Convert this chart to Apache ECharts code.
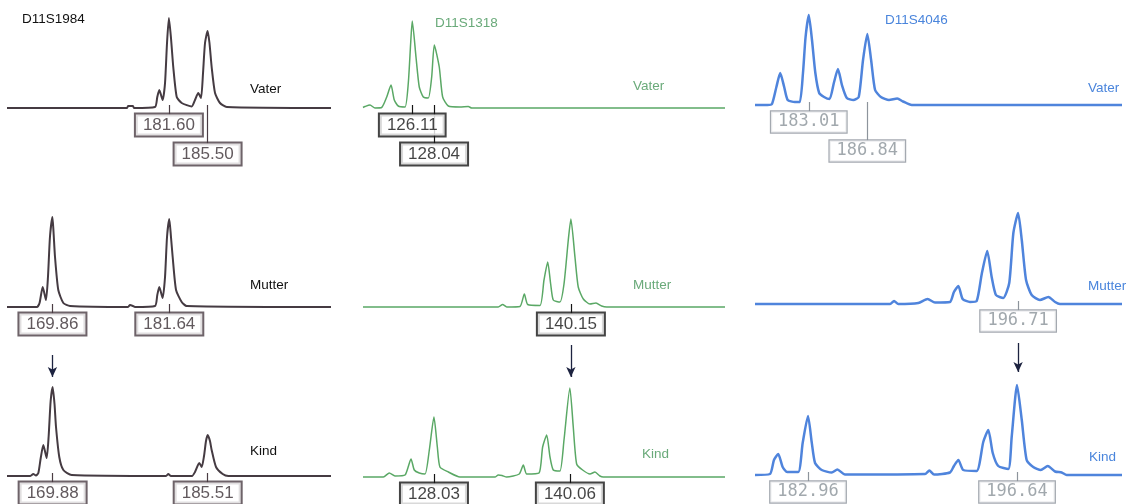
<!DOCTYPE html>
<html>
<head>
<meta charset="utf-8">
<script src="https://cdn.jsdelivr.net/npm/echarts@6/dist/echarts.min.js"></script>
<style>
  html, body { margin: 0; background: #fff; }
  #chart { width: 1131px; height: 504px; }
</style>
</head>
<body>
<div id="chart"></div>
<script>
// fragment size (bp) against peak height
const vater1984 = [[165.28,0],[177.38,0],[177.48,2],[177.98,2],[178.08,0],[180.20,1],[180.43,11],[180.63,18],[180.97,8],[181.21,25],[181.41,65],[181.60,90],[181.81,70],[182.04,41],[182.39,11],[182.89,5],[183.90,1.5],[184.23,8],[184.56,15],[184.84,10],[185.04,35],[185.24,65],[185.50,77],[185.69,65],[185.91,41],[186.25,15],[186.75,5],[187.43,1],[197.94,0]]
const mutter1984 = [[165.28,0],[168.30,0],[168.56,4],[168.88,20],[169.21,7],[169.41,30],[169.61,70],[169.86,90],[169.97,75],[170.12,50],[170.45,17],[170.96,4],[171.63,1],[177.48,0],[177.68,2],[177.98,1],[178.18,0],[180.20,1],[180.43,12],[180.63,20],[180.97,9],[181.21,30],[181.41,70],[181.64,88],[181.81,70],[181.98,50],[182.32,17],[182.89,5],[183.39,1],[197.94,0]]
const kind1984 = [[165.28,0],[167.60,0],[167.93,2],[168.20,0.5],[168.44,3],[168.68,18],[168.94,31],[169.28,18],[169.48,40],[169.68,75],[169.88,89],[170.07,72],[170.22,49],[170.55,19],[170.96,6],[171.80,1],[181.31,0],[181.54,2],[181.81,0],[183.93,0],[184.23,4],[184.66,13],[184.91,9],[185.14,20],[185.34,35],[185.51,41],[185.74,35],[185.91,26],[186.35,9],[187.02,2],[187.59,0],[197.94,0]]

const vater1318 = [[121.75,0.5],[121.93,1.5],[122.37,3],[122.81,0],[123.40,0.5],[123.85,11],[124.23,23],[124.52,8],[124.87,2],[125.47,1],[125.76,25],[125.97,65],[126.11,87],[126.44,51],[126.73,21],[127.09,11],[127.53,10],[127.83,31],[128.06,63],[128.50,41],[128.80,11],[129.30,2],[130.33,1],[131.07,1.5],[131.37,0],[153.79,0]]
const mutter1318 = [[121.75,0],[133.72,0],[134.11,2.5],[134.47,0],[135.64,0.5],[136.03,13],[136.33,2.5],[137.41,1.5],[137.77,27],[138.10,45],[138.36,23],[138.59,7],[139.18,5],[139.54,23],[139.92,67],[140.15,88],[140.51,50],[140.80,20],[141.25,8],[141.84,3],[142.37,4],[142.87,1],[143.32,0],[153.79,0]]
const kind1318 = [[121.75,0],[123.55,0],[124.08,4],[124.58,1],[125.47,2],[126.00,18],[126.29,7],[126.73,4],[127.24,3],[127.62,27],[128.03,60],[128.33,30],[128.56,10],[129.30,5],[130.33,0],[133.43,0],[133.72,2],[134.05,1.5],[134.47,0],[135.58,3],[135.94,12],[136.24,3],[137.33,4],[137.65,30],[138.01,42],[138.30,20],[138.59,7],[139.18,6],[139.54,37],[140.06,89],[140.36,50],[140.66,13],[141.19,7],[141.84,3],[142.28,5],[142.72,1],[143.02,0],[153.79,0]]

const vater4046 = [[179.49,0],[180.30,0],[180.60,1],[180.89,18],[181.14,32],[181.40,18],[181.63,5],[182.10,3],[182.42,3],[182.63,32],[182.80,68],[183.01,90],[183.22,65],[183.44,32],[183.69,12],[184.01,8],[184.37,6],[184.65,22],[184.92,36],[185.18,20],[185.50,7],[185.93,5],[186.28,8],[186.56,45],[186.84,71],[187.09,45],[187.35,15],[187.73,8],[188.26,5],[188.80,6.5],[189.18,3.5],[189.75,0],[203.51,0]]
const mutter4046 = [[179.49,0],[188.33,0],[188.59,3],[188.87,0],[190.18,1],[190.79,5],[191.27,1.5],[192.25,2],[192.51,12],[192.80,18],[193.08,5],[193.56,2],[194.00,3],[194.33,30],[194.69,53],[194.98,27],[195.26,9],[195.74,6],[196.13,21],[196.40,71],[196.71,91],[196.95,64],[197.23,24],[197.60,9],[198.14,4],[198.69,7],[199.13,2],[199.45,0],[203.51,0]]
const kind4046 = [[179.49,0],[180.47,1],[180.73,15],[181.01,21],[181.30,8],[181.60,3],[182.32,3],[182.61,32],[182.96,59],[183.20,33],[183.42,12],[183.86,5],[184.51,2.5],[184.88,5.5],[185.38,0.5],[190.62,1],[190.90,4.5],[191.21,0.5],[192.25,2.5],[192.51,9],[192.80,15],[193.12,5],[194.00,4],[194.43,33],[194.76,45],[195.05,22],[195.41,9],[196.07,6],[196.29,38],[196.64,90],[196.95,55],[197.27,15],[197.70,8],[198.19,5],[198.65,9],[199.13,3.5],[199.56,2.5],[199.89,0],[203.51,0]]

const loci = ['D11S1984', 'D11S1318', 'D11S4046']
const samples = ['Vater', 'Mutter', 'Kind']
const sizeRange = [[165.28, 197.94], [121.75, 153.79], [179.49, 203.51]]

// allele calls, rows = Vater / Mutter / Kind, columns = loci
const vaterAlleles = [[181.60, 185.50], [126.11, 128.04], [183.01, 186.84]]
const mutterAlleles = [[169.86, 181.64], [140.15], [196.71]]
const kindAlleles = [[169.88, 185.51], [128.03, 140.06], [182.96, 196.64]]
// allele the child got from the mother (arrow)
const inherited = [169.86, 140.15, 196.71]

const traces = [
  [vater1984, vater1318, vater4046],
  [mutter1984, mutter1318, mutter4046],
  [kind1984, kind1318, kind4046]
]
const alleles = [vaterAlleles, mutterAlleles, kindAlleles]

// layout
const colLeft = [7, 363, 755]
const colWidth = [324, 362, 367]
const baseline = [[108, 108, 105], [307, 307, 304], [476, 477, 475]]
const Y_MIN = -75, Y_MAX = 100
const BOX_Y = [-17, -46]
const sampleText = [[[250, 90], [633, 87], [1088, 89]], [[250, 286], [633, 286], [1088, 287]], [[250, 452], [642, 455], [1089, 458]]]
const locusText = [[22, 20], [435, 24], [885, 21]]
const arrowY = [[-48, -70], [-38, -70], [-39, -68]]

const colStyle = [
  { line: '#453b42', width: 2, text: '#111111', box: '#4a3c44', boxText: '#3a3035', boxWidth: 2, font: 'Liberation Sans' },
  { line: '#5aa865', width: 1.5, text: '#6aaa7a', box: '#151515', boxText: '#151515', boxWidth: 2, font: 'Liberation Sans' },
  { line: '#4f84dc', width: 2.5, text: '#4a85dc', box: '#8d949c', boxText: '#8a9299', boxWidth: 1.2, font: 'DejaVu Sans Mono' }
]

let chart = echarts.init(document.getElementById('chart'))

let grids = [], xAxes = [], yAxes = [], series = [], titles = []

loci.forEach((name, c) => {
  titles.push({
    text: name, left: locusText[c][0], top: locusText[c][1] - 8, padding: 0,
    textStyle: { fontSize: 13.5, fontWeight: 'normal', color: colStyle[c].text, fontFamily: 'Liberation Sans' }
  })
})

for (let r = 0; r < 3; r++) {
  for (let c = 0; c < 3; c++) {
    let i = r * 3 + c
    let st = colStyle[c]
    grids.push({
      left: colLeft[c], width: colWidth[c],
      top: baseline[r][c] - Y_MAX, height: Y_MAX - Y_MIN,
      outerBoundsMode: 'none'
    })
    xAxes.push({ type: 'value', gridIndex: i, min: sizeRange[c][0], max: sizeRange[c][1], show: false })
    yAxes.push({ type: 'value', gridIndex: i, min: Y_MIN, max: Y_MAX, show: false })

    titles.push({
      text: samples[r], left: sampleText[r][c][0], top: sampleText[r][c][1] - 8, padding: 0,
      textStyle: { fontSize: 13.5, fontWeight: 'normal', color: st.text, fontFamily: 'Liberation Sans' }
    })

    let calls = alleles[r][c]
    // father's two calls are staggered so the boxes don't overlap
    let levels = calls.map((a, k) => r === 0 ? k : 0)
    let marks = calls.map((a, k) => [
      { coord: [a, 3] },
      { coord: [a, BOX_Y[levels[k]] + 10.5] }
    ])
    if (r === 1) {
      marks.push([
        { coord: [inherited[c], arrowY[c][0]], symbol: 'none', lineStyle: { color: '#1d2340', width: 1.3, type: 'solid' } },
        { coord: [inherited[c], arrowY[c][1]], symbol: 'arrow', symbolSize: [7, 10], lineStyle: { color: '#1d2340', width: 1.3, type: 'solid' } }
      ])
    }

    series.push({
      type: 'line',
      xAxisIndex: i, yAxisIndex: i,
      data: traces[r][c],
      symbol: 'none',
      smooth: 0.2,
      silent: true,
      lineStyle: { color: st.line, width: st.width },
      markLine: {
        silent: true,
        symbol: ['none', 'none'],
        label: { show: false },
        lineStyle: { color: st.box, width: 1.2, type: 'solid' },
        data: marks
      }
    })

    series.push({
      type: 'scatter',
      xAxisIndex: i, yAxisIndex: i,
      data: calls.map((a, k) => [a, BOX_Y[levels[k]]]),
      symbolSize: 1,
      silent: true,
      z: 5,
      itemStyle: { color: 'rgba(0,0,0,0)' },
      label: {
        show: true,
        position: 'inside',
        formatter: p => p.value[0].toFixed(2),
        color: st.boxText,
        fontSize: 17,
        lineHeight: 17,
        fontFamily: st.font,
        borderColor: st.box,
        borderWidth: st.boxWidth,
        backgroundColor: '#fff',
        padding: [2, 7]
      }
    })
  }
}

chart.setOption({
  animation: false,
  title: titles,
  grid: grids,
  xAxis: xAxes,
  yAxis: yAxes,
  series: series
})
</script>
</body>
</html>
